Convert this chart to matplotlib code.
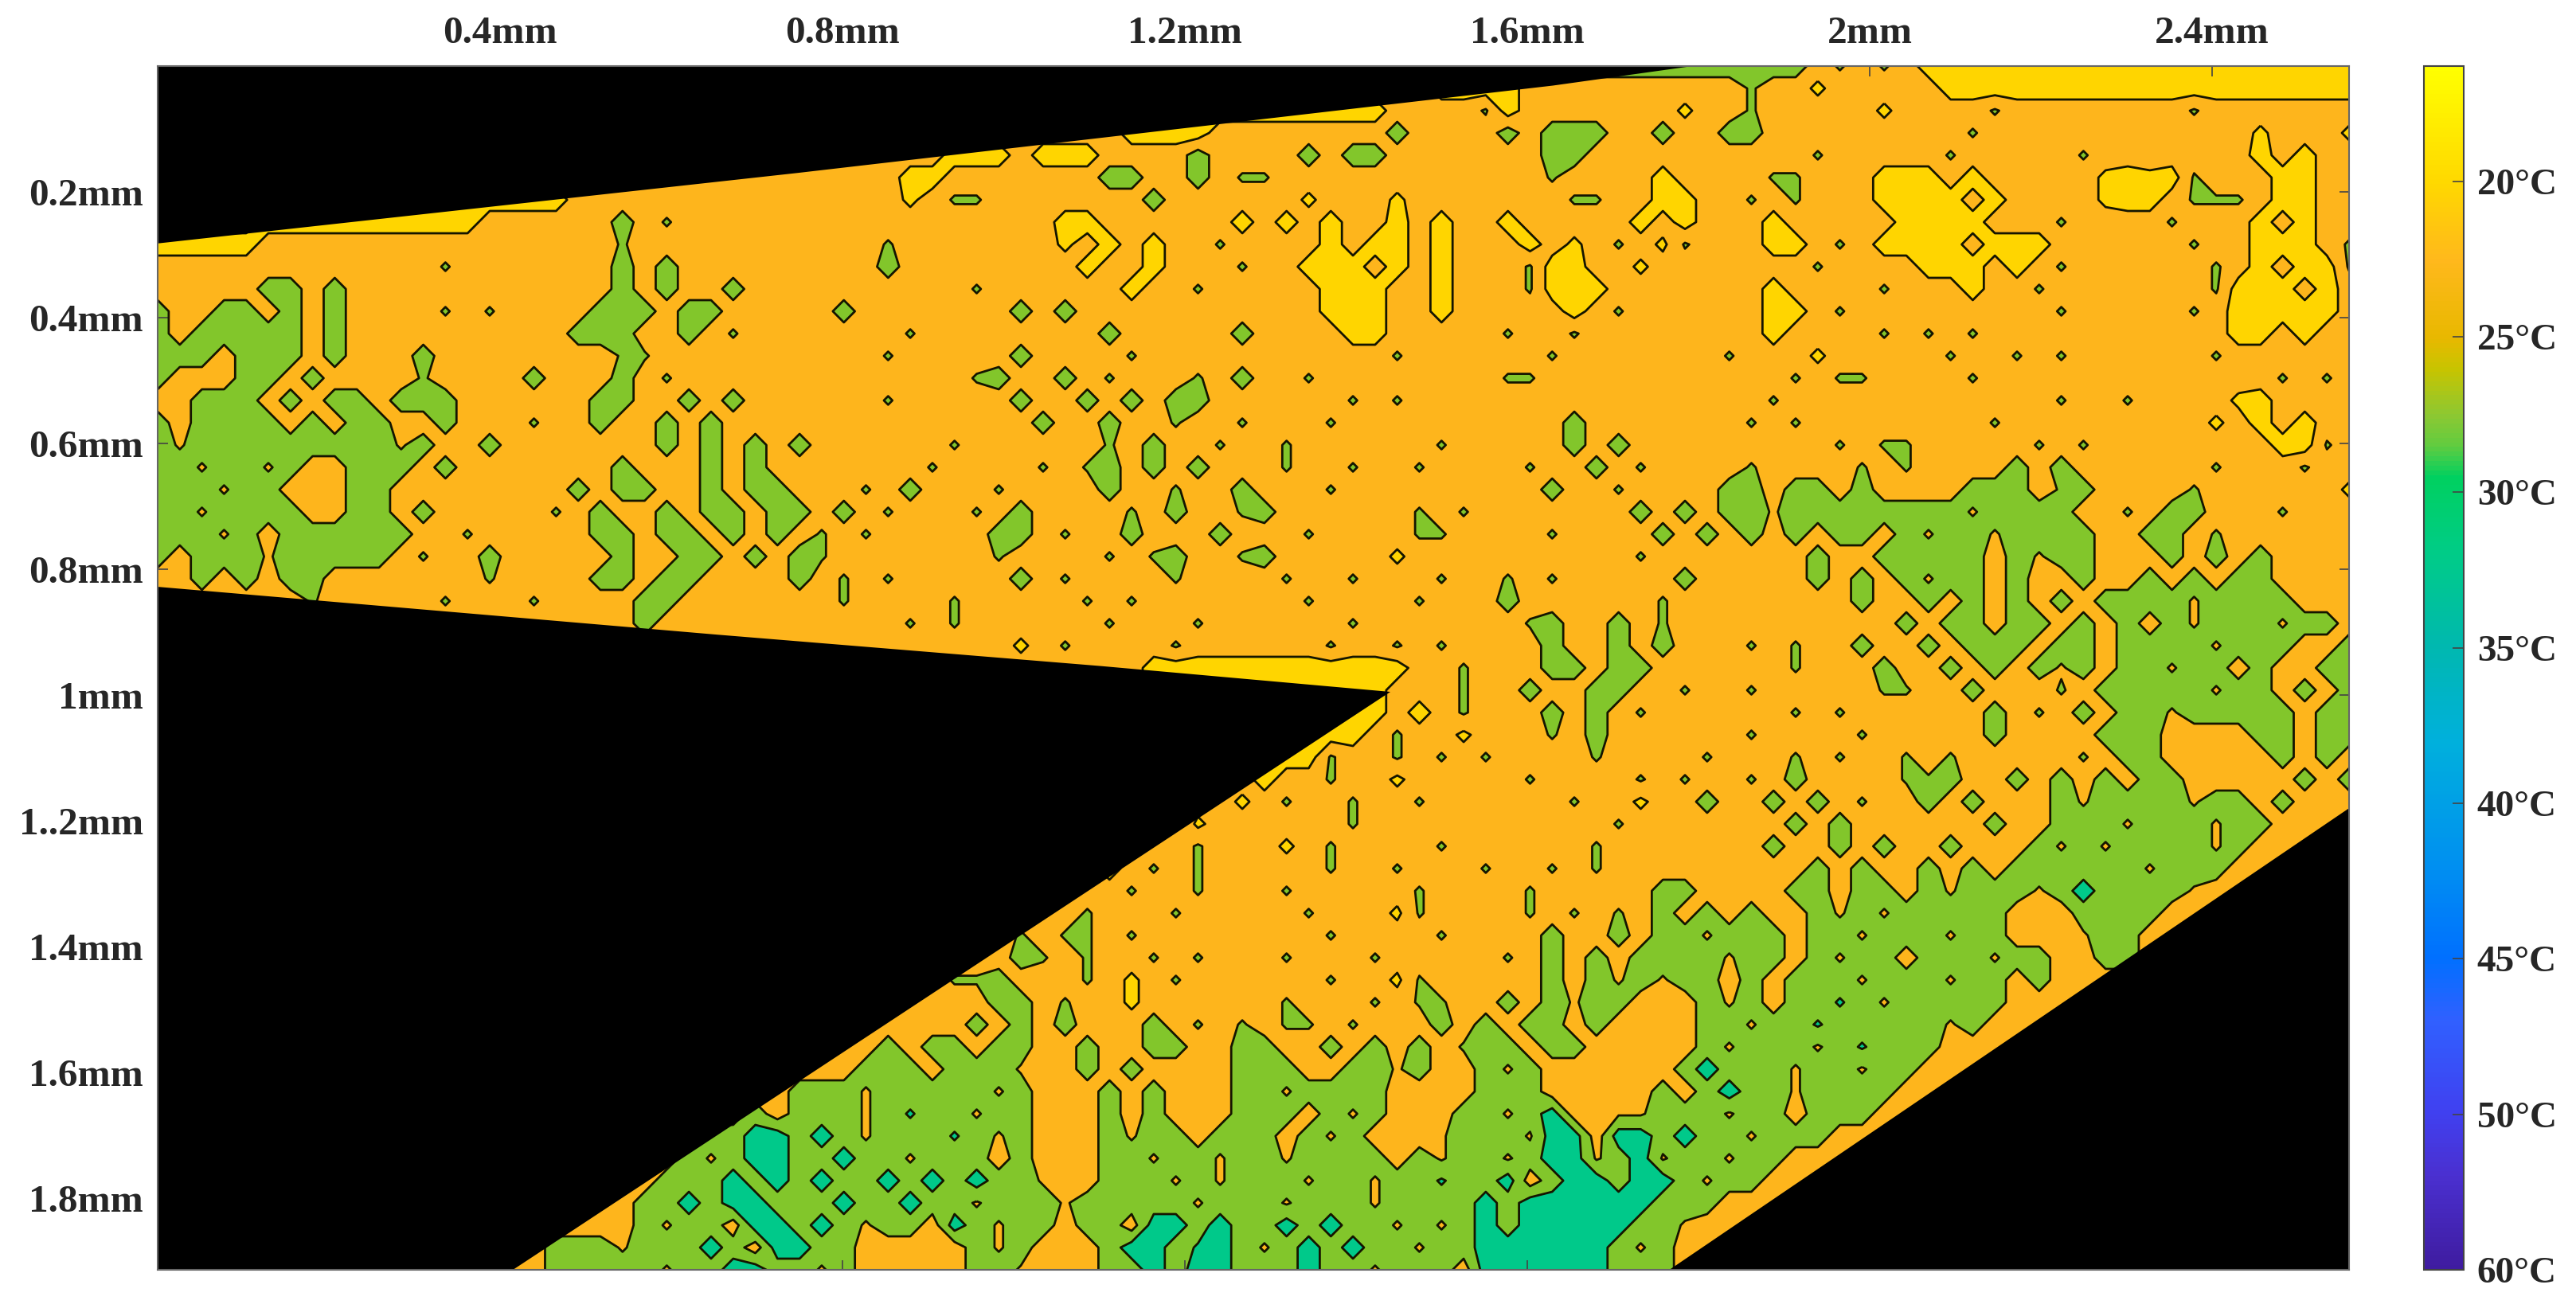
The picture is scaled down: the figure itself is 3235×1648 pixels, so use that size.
import numpy as np
import matplotlib
matplotlib.use('Agg')
import matplotlib.pyplot as plt
from matplotlib.cm import ScalarMappable
from matplotlib.colors import LinearSegmentedColormap, Normalize

plt.rcParams['font.family'] = ['Liberation Serif', 'DejaVu Serif']
plt.rcParams['font.weight'] = 'bold'

# temperature, one string per row (top to bottom), 100 columns
# . orange  , tiny green spot  g green  o tiny orange spot  y yellow  : tiny yellow ring  t teal  * tiny teal spot
temp_rows = [
    ".......... .......... .......... .......... .......... .......... ....gggggg ggggg.,.,. yyyyyyyyyy yyyyyyyyyy",
    ".......... .......... .......... .......... .......... ........yy yy........ ..,..:.... .yyyyyyyyy yyyyyyyyyy",
    ".......... .......... .......... .......... ........yy yyyyyy.... ,y.......: ..,.....:. ...,...... ..,.......",
    ".......... .......... .......... .......... ....yyyy.. ......g... .g.ggg..g. .gg....... ..,....... .....:...:",
    ".......... .......... .......... ......yyy. yyy....g.. ..g.gg.... ...gg..... .....,.... .,.....,.. .....y.y..",
    ".......... .......... .......... ....yy.... ...gg..g., ,......... ...,....y. ...,,...yy y.y.....:y :y,...yy..",
    ".......... ..yyyyyyy. .......... ....:.,,.. .....g.... ..:...:... ....,,..yy ..,.,...yy yy.y....:y y.,,,.yy..",
    ".....yyyyy yyyyy..... .g.,...... .......... .yy......y .y.y..y.y. .y.....y.y ...y.....y yyy...,... .,...y.y..",
    "yyyyy..... .......... .,........ ...,...... .:.y.y..,. ...y.yy.y. ..y.:.,.:, ...yy.,.yy yy.yyy.... ..,..yyy.,",
    ".......... ...,...... .g.g...... ...g...... ..y..y..., ..yyy.y.y. ..,yy..:.. .....,.... yyy.y.,... ...,.y.yy,",
    ".....gg.g. .......... .g.g..g... .......,.. ....y..,.. ...yyy..y. ..,yyy.... ...y....,. ..y..,.... ...,yyy.y.",
    "g..gg.g.g. ...,.,.... ggg.gg.... .g.......g .g........ ...yyy..y. ....y.,... ...yy.,... ......,... ..,.yyyyy.",
    "g.ggggg.g. .........g gg..g.,... ....,..... ...g.....g ....yy.... .,..,..... ...y....,. ,.,....... ....yy.y..",
    "ggg.ggg.g. ..g....... .,,....... ...,.....g ....,..... ......,... ...,...... .,...:.... .,..,.,... ...,......",
    "g...gg.g.. ..,....g.. .g.,...... .......,g. .g.,...,.g ..,....... .,,....... ....,.,,.. ..,....... ......,.,.",
    "..ggg.g.gg .ggg...... gg..g.g... ...,.....g ..g.g.gg.. ....,.,... .......... ...,...... ......,.., ....:y....",
    "g.gggg.g.g g..g...,.. g..g.g.... .......... g..g..,.., ...,...... ....g..... ..,.,..... ...,...... ...:.y.y..",
    "gogggggggg gog..g.... ...g.g.g.g ......,... ...,.g..,. .,......,. ....g.g... ......,.,, .....,.,.. ......yy,.",
    "ggoggog..g gg.g...... .g...g.g.. .....,.... ,.,g.g.g.. .,..,..,.. ..,..g.,.. ..,....,., ....g.g... ...,...,..",
    "gggogg...g g........g .gg..g.gg. ..,.g...,. ...g..,..g ...,...... ...g..,... .gg.gg.g.. ..ggg.,g.. ..,......:",
    "ggogggg..g g.g.....,. g..g.gg.gg .g.,...,.g ....,.g.., g......,., .......g.g .ggogggggg ggogggg.., .gg...,...",
    "gggog.gggg gg..,..... gg.gg.g.g. ,.,.....gg .,..g...g. ..,....,,. ...,....g. g.g.g.gg.g oggogggg.. gg.,......",
    "g.gggogggg g.,..g.... .g..gg.g.g ,.......,. ...,.,g.., g.....:... .......,.. .....g..gg ggg.gogg.. .g.g.g....",
    "..g.g.gg.. .....,.... gg.gg....g .,.,.....g .,....,... .,..,...,. .,.,.....g .....g.g.g ogg.g..g.. g.g.gg....",
    ".......,.. ...,...,.. ..gg...... .,....,... ..,.,..... ..,....,.. .g......,. .......g.. g.g.g.g.gg ggogggg...",
    ".......... .....,.... ..g....... ....,.,... ...,...,.. ....,..... ..,g..g.,. .........g .gg.gg.g.g .gogggogg.",
    ".......... ..,.,..... .,........ .........: .,....,... ...,..,.,. ...g..g.g. ..,.,..g.. g.ggg.gg.g gggoggg..g",
    ".......... ......,... ......,... ...,...... .....yyyyy yyyyyyy.., ...gg.gg.. ....,...g. .g.g.gog.g gogg.g..gg",
    ".......... .......... .......... ....,..... .....yyyyy yyyyyy..., ..g..gg.., ..,.....,, ..g...,.gg gggogg.g.g",
    ".......... .......... .......... .......... .......... yyyyyy.y., ...g.g.,.. ....,.,... ...g.,.g.g goggggg.gg",
    ".......... .......... .......... .......... .......... yyyyy.,..: ...,.g.... ..,....,.. ...g....gg g....gg.gg",
    ".......... .......... .......... .......... .......... yyy,..,.,. ,....,.... ,...,.,.., .,.....,.g g.....g.g.",
    ".......... .......... .......... .......... .......... y..,..:... ..,....,., ..,.g...., ,g..g.g.g. gg.....g.g",
    ".......... .......... .......... .......... .........: .,..,..,.. ....,..:.. g..g.g.,.. g.g...gogg ggogg.g...",
    ".......... .......... .......... .......... .....:,:.. ....,..... ......,... ....g.g... ...g..gggo gggogg....",
    ".......... .......... .......... .......... ...,...,.. .:.,....,. .....,.... ...g..g.g. .g...gogog gggog.....",
    ".......... .......... .......... .......... .,.y.,.,.. ...,..,... ,..,.,.... .....g.g.. g.g.gggggg oggg......",
    ".......... .......... .......... .......... ....,..,.. .,.....,.. ..,.....gg ....gg.gg. gogggogtgg ggo.......",
    ".......... .......... .......... .......:.. ,.,...,... ..,...:,.. ..,.,.,.g. g.g..gogog gggg...ggg g.........",
    ".......... .......... .......... ........., .,,.,..... ...,....,. ...g..g.gg oggg.ggogg gogg...ogg ..........",
    ".......... .......... .......... .........g ,.,..,.,.. .,...,.... .,.g.g.ggg gogg.gogg. gggogg..gg ..........",
    ".......... .......... .......... ......,,g. ..,.:.,... ...,..:,.. ...g.gogog g.g.gggogg gogg.g.... ..........",
    ".......... .......... .......... ........gg .,..:..... .,...,.,,. .g.gogg... gog.gg*gog gggg...... ..........",
    ".......... .......... .......... .......g.g .g...g.,., .,,.,...g. g.gg.g.... ggogg*gggg gog....... ..........",
    ".......... .......... .......... ...g.gg.gg ..g..gg..g g..g.g.g., gg.gg..... gogggog*gg g......... ..........",
    ".......... .......... .......... ..ggg.gggo ..g.g....g gg..ggog.. gog......g tgggoggogg .......... ..........",
    ".......... .......... .........g ggogggggog ...g.g...g gogggg.... ggg.....g. gtggogggg. .......... ..........",
    ".......... .......... .......g.g ggog*ggogg ...g.g...g gg.gog...g gogt..oogg gogg.ggg.. .......... ..........",
    ".......... .......... .....ggttg tgoggg*gog ...gogg.gg g.gog...og ggott.ttgt ggoggg.... .......... ..........",
    ".......... .......... ....gogttg gtggoggg.g ...ggoggog gogggg.gog gogttogtog gogg...... .......... ..........",
    ".......... .......... ...gggtgtg tggtgtgtgg o..gggogog ggoggogg*g gt.gttgttg ogg....... .......... ..........",
    ".......... .......... ..ggtgttgg gtggtggogg gogggggogg gogggogggg tgtt*tttgg g......... .......... ..........",
    ".......... .......... ..gogg.ttg tgogg.tgog g.gg.ttgtg gtgtggogog tgtt*ttggo .......... .......... ..........",
    ".......... ........gg gogggtg.tt gg.....gog ...gttg*tg ogtgtggogg ttttttgog. .......... .......... ..........",
    ".......... ........gg gggoggttgg og.....ggo ...ggtgttg ggtggoggg. ttt*ttggg. .......... .......... ..........",
]
code_values = {'.': 22.5, ',': 25.6, 'g': 27.5, 'o': 24.4, 'y': 17.5, ':': 18.8, 't': 32.5, '*': 30.6}

# black (no data) regions, in mm
top_wedge_x = [0, 0.747, 1.630, 1.793, 1.793, 0]
top_wedge_y = [0.282, 0.170, 0.031, 0, 0, 0]
low_wedge_x = [0, 0.653, 1.102, 1.440, 0.415, 0]
low_wedge_y = [0.828, 0.904, 0.954, 0.995, 1.914, 1.914]
right_wedge_x = [2.560, 1.766, 2.560]
right_wedge_y = [1.180, 1.914, 1.914]

x_ticks = [0.4, 0.8, 1.2, 1.6, 2.0, 2.4]
x_labels = ['0.4mm', '0.8mm', '1.2mm', '1.6mm', '2mm', '2.4mm']
y_ticks = [0.2, 0.4, 0.6, 0.8, 1.0, 1.2, 1.4, 1.6, 1.8]
y_labels = ['0.2mm', '0.4mm', '0.6mm', '0.8mm', '1mm', '1..2mm', '1.4mm', '1.6mm', '1.8mm']
cbar_ticks = [20, 25, 30, 35, 40, 45, 50, 55]
cbar_labels = ['20°C', '25°C', '30°C', '35°C', '40°C', '45°C', '50°C', '60°C']

# colorbar colours by temperature
cbar_temps = [16.3, 20, 22.5, 25, 26, 27.5, 28.5, 29.5, 32, 35, 38, 42, 45, 47, 50, 52, 55]
cbar_colors = ['#FFFF00', '#FFD800', '#FFB81C', '#E8B800', '#C8C400', '#8CC832', '#60CC40', '#00D060',
               '#00CC88', '#00B8B0', '#00B0DC', '#0090F0', '#0070FF', '#3060FF', '#4040F0', '#4A30D0', '#3F1CA0']
fill_levels = [10, 20, 25, 30, 40]
fill_colors = ['#FFD500', '#FEB51C', '#82C62B', '#00C98A']

x_max = 2.56
y_max = 1.914

z = np.array([[code_values[c] for c in r.replace(' ', '').ljust(100, '.')[:100]] for r in temp_rows])
xs = np.linspace(0, x_max, z.shape[1])
ys = np.linspace(0, y_max, z.shape[0])

W, H = 3235, 1648
fig = plt.figure(figsize=(W / 100, H / 100), dpi=100)
ax = fig.add_axes([198 / W, 1 - 1595 / H, (2950 - 198) / W, (1595 - 83) / H])

ax.contourf(xs, ys, z, levels=fill_levels, colors=fill_colors, zorder=1)
ax.contour(xs, ys, z, levels=[20, 25, 30], colors='#151500', linewidths=2.0, zorder=2)
for wx, wy in [(top_wedge_x, top_wedge_y), (low_wedge_x, low_wedge_y), (right_wedge_x, right_wedge_y)]:
    ax.fill(wx, wy, color='black', lw=0, zorder=3)

ax.set_xlim(0, x_max)
ax.set_ylim(y_max, 0)
ax.set_xticks(x_ticks, x_labels)
ax.set_yticks(y_ticks, y_labels)
ax.tick_params(axis='both', direction='in', length=9, width=1.2, color='#444444', top=True, bottom=True,
               left=True, right=True, labeltop=True, labelbottom=False, labelsize=35.5, labelcolor='#262626')
ax.tick_params(axis='x', pad=14)
ax.tick_params(axis='y', pad=13)
for s in ax.spines.values():
    s.set_color('#666666')
    s.set_linewidth(1.5)
    s.set_zorder(5)

cax = fig.add_axes([3044 / W, 1 - 1595 / H, 50 / W, (1595 - 83) / H])
t0, t1 = cbar_temps[0], cbar_temps[-1]
stops = [(t - t0) / (t1 - t0) for t in cbar_temps]
cmap = LinearSegmentedColormap.from_list('thermal', list(zip(stops, cbar_colors)), N=256)
cbar = fig.colorbar(ScalarMappable(Normalize(t0, t1), cmap), cax=cax, ticks=cbar_ticks)
cbar.ax.invert_yaxis()
cbar.ax.set_yticklabels(cbar_labels)
cbar.ax.tick_params(direction='in', length=10, width=1.2, color='#444444', labelsize=34,
                    labelcolor='#262626', pad=12)
cbar.outline.set_edgecolor('#444444')
cbar.outline.set_linewidth(1.5)

fig.savefig('out.png', dpi=100)
